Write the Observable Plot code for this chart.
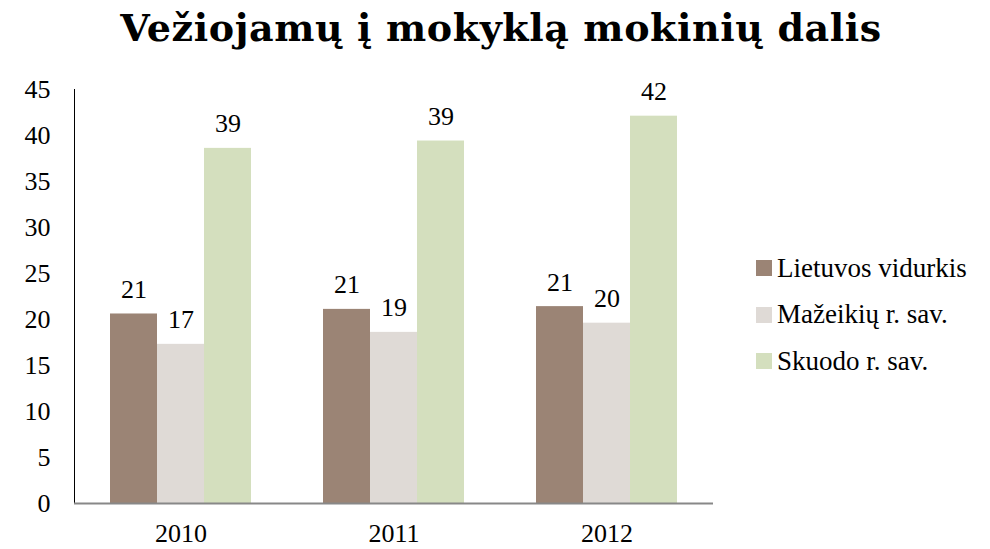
<!DOCTYPE html>
<html><head><meta charset="utf-8">
<script src="https://cdn.jsdelivr.net/npm/d3@7"></script>
<script src="https://cdn.jsdelivr.net/npm/@observablehq/plot@0.6"></script>
<style>
body{margin:0;background:#fff;font-family:"Liberation Serif",serif;color:#000}
#wrap{position:relative;width:990px;height:549px;overflow:hidden}
#title{position:absolute;top:8px;left:6px;width:990px;text-align:center;font-family:"DejaVu Serif",serif;font-weight:bold;font-size:38px;letter-spacing:0.6px;line-height:40px;white-space:nowrap}
#chart{position:absolute;top:75px;left:0}
#legend{position:absolute;left:756px;top:245px}
.item{display:flex;align-items:center;height:46.5px;font-size:27px}
.sw{width:16px;height:16px;margin-right:5px}
g[aria-label="y-axis"] path{stroke:#888;stroke-width:2}
</style></head>
<body><div id="wrap"><div id="title">Vežiojamų į mokyklą mokinių dalis</div><div id="chart"></div><div id="legend"></div></div>
<script>
const years = ["2010", "2011", "2012"];
const series = ["Lietuvos vidurkis", "Mažeikių r. sav.", "Skuodo r. sav."];
const lietuvos = [20.6, 21.1, 21.4];
const mazeikiu = [17.3, 18.6, 19.6];
const skuodo = [38.6, 39.4, 42.1];
const colors = ["#9b8475", "#dfdad6", "#d4dfbe"];
const yTicks = [0, 5, 10, 15, 20, 25, 30, 35, 40, 45];

const valuesBySeries = [lietuvos, mazeikiu, skuodo];
const data = [];
years.forEach((yr, i) => series.forEach((s, j) => data.push({year: yr, series: s, value: valuesBySeries[j][i]})));

const chart = Plot.plot({
  width: 990, height: 474,
  marginLeft: 73, marginRight: 277, marginTop: 14, marginBottom: 46,
  style: {fontFamily: "Liberation Serif", fontSize: "26px", color: "#000", background: "#fff", overflow: "visible"},
  fx: {domain: years, padding: 0, label: null, tickSize: 0, tickPadding: 20, axis: "bottom"},
  x: {domain: series, paddingInner: 0, paddingOuter: 0.75, axis: null},
  y: {domain: [0, 45], ticks: yTicks, tickSize: 0, tickPadding: 24, line: true, label: null},
  color: {domain: series, range: colors},
  marks: [
    Plot.barY(data, {fx: "year", x: "series", y: "value", fill: "series"}),
    Plot.text(data, {fx: "year", x: "series", y: "value", text: d => String(Math.round(d.value)), lineAnchor: "bottom", dy: -16}),
    Plot.ruleY([0], {stroke: "#888", strokeWidth: 2})
  ]
});
document.getElementById("chart").appendChild(chart);

const legend = document.getElementById("legend");
series.forEach((s, j) => {
  const it = document.createElement("div"); it.className = "item";
  const sw = document.createElement("div"); sw.className = "sw"; sw.style.background = colors[j];
  const tx = document.createElement("span"); tx.textContent = s;
  it.appendChild(sw); it.appendChild(tx); legend.appendChild(it);
});
</script></body></html>
